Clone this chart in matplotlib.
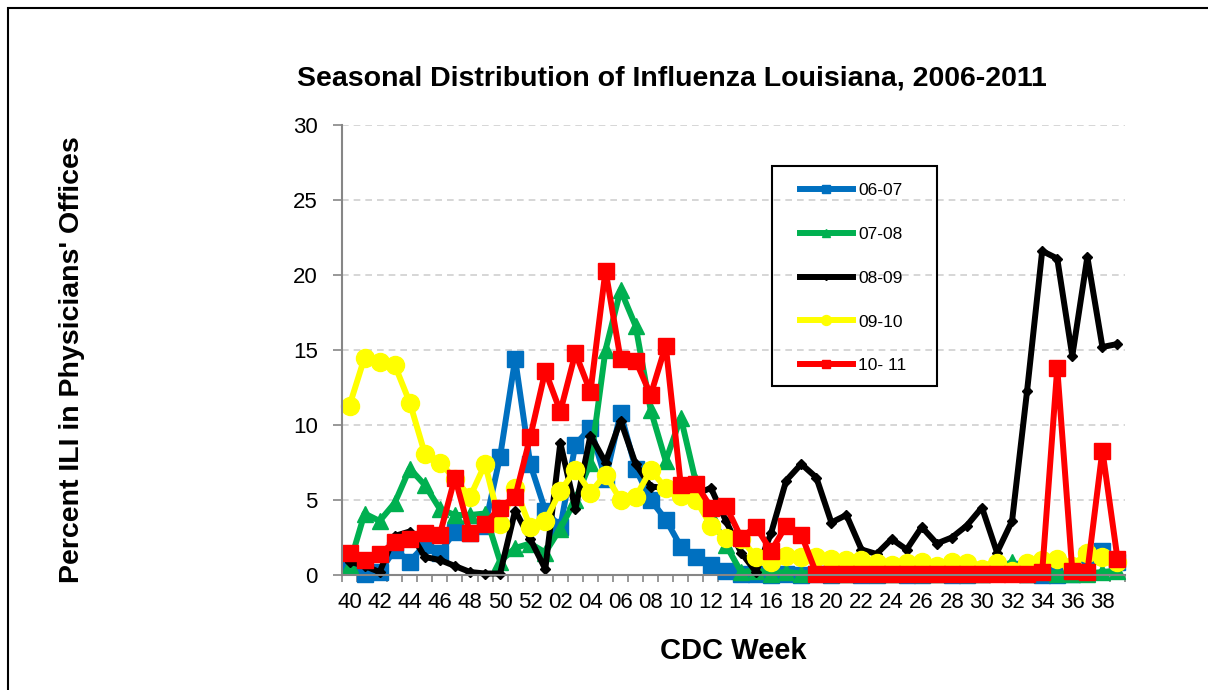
import matplotlib
matplotlib.use("Agg")
import matplotlib.pyplot as plt
from matplotlib.lines import Line2D
from matplotlib.patches import Rectangle
import numpy as np

weeks = [str(w) for w in range(40, 53)] + ["%02d" % w for w in range(1, 40)]

s0607 = [0.6, 0.1, 0.2, 1.7, 0.9, 2.0, 1.5, 2.9, 2.8, 3.3, 7.9, 14.4, 7.4, 4.3, 3.2, 8.7,
         9.8, 6.4, 10.8, 7.1, 5.0, 3.7, 1.9, 1.2, 0.7, 0.3, 0.1, 0.1, 0.0, 0.1, 0.0, 0.1,
         0.0, 0.1, 0.0, 0.0, 0.1, 0.0, 0.0, 0.1, 0.0, 0.0, 0.1, 0.2, 0.4, 0.1, 0.0, 0.0,
         0.1, 1.3, 1.6, 0.9]
s0708 = [0.7, 4.1, 3.6, 4.8, 7.1, 6.0, 4.4, 4.0, 4.0, 4.1, 0.9, 1.8, 2.1, 1.5, 3.1, 5.0,
         7.5, 15.0, 19.0, 16.6, 11.0, 7.6, 10.5, 6.2, 4.0, 2.0, 0.2, 0.3, 0.1, 0.2, 0.1, 0.2,
         0.1, 0.1, 0.2, 0.1, 0.1, 0.2, 0.1, 0.1, 0.2, 0.1, 0.1, 0.2, 0.9, 0.1, 0.2, 0.1,
         0.1, 0.1, 0.2, 0.3]
s0809 = [0.9, 0.6, 0.2, 2.6, 2.9, 1.2, 1.0, 0.6, 0.2, 0.1, 0.1, 4.3, 2.4, 0.4, 8.8, 4.4,
         9.3, 7.5, 10.3, 7.4, 5.9, 5.8, 5.6, 5.4, 5.8, 3.6, 1.5, 0.2, 2.8, 6.3, 7.4, 6.5,
         3.5, 4.0, 1.7, 1.4, 2.4, 1.7, 3.2, 2.1, 2.5, 3.3, 4.5, 1.5, 3.6, 12.3, 21.6, 21.1,
         14.6, 21.2, 15.2, 15.4]
s0910 = [11.3, 14.5, 14.2, 14.0, 11.5, 8.1, 7.5, 6.4, 5.2, 7.4, 3.4, 5.8, 3.2, 3.6, 5.6, 7.0,
         5.5, 6.7, 5.0, 5.2, 7.0, 5.8, 5.3, 5.0, 3.3, 2.5, 2.4, 1.2, 0.9, 1.3, 1.2, 1.2,
         1.1, 1.0, 1.0, 0.8, 0.7, 0.8, 0.9, 0.6, 0.9, 0.8, 0.4, 0.8, 0.3, 0.8, 1.0, 1.1,
         0.6, 1.5, 1.2, 0.9]
s1011 = [1.5, 1.0, 1.4, 2.2, 2.4, 2.8, 2.7, 6.5, 2.8, 3.4, 4.5, 5.2, 9.2, 13.6, 10.9, 14.8,
         12.2, 20.3, 14.4, 14.3, 12.0, 15.3, 6.0, 6.1, 4.5, 4.6, 2.5, 3.2, 1.6, 3.3, 2.7, 0.1,
         0.1, 0.1, 0.1, 0.1, 0.1, 0.1, 0.1, 0.1, 0.1, 0.1, 0.1, 0.1, 0.1, 0.1, 0.2, 13.8,
         0.3, 0.2, 8.3, 1.1]

series_labels = ["06-07", "07-08", "08-09", "09-10", "10- 11"]
series_data = [s0607, s0708, s0809, s0910, s1011]
colors = ["#0070C0", "#00B050", "#000000", "#FFFF00", "#FF0000"]
markers = ["s", "^", "D", "o", "s"]
msizes = [11, 11, 5.5, 13, 11]

yticks = [0, 5, 10, 15, 20, 25, 30]

plt.rcParams['font.family'] = ['Liberation Sans', 'DejaVu Sans']

W, H = 1208, 690
fig = plt.figure(figsize=(W / 100, H / 100), dpi=100)
fig.patch.set_facecolor("white")
ax = fig.add_axes([342 / W, 1 - 575 / H, (1125 - 342) / W, 450 / H])

x = np.arange(len(weeks))
for data, lab, c, m, ms in zip(series_data, series_labels, colors, markers, msizes):
    ax.plot(x, data, color=c, marker=m, markersize=ms, linewidth=4.3,
            markeredgecolor=c, label=lab, clip_on=False)

ax.set_xlim(-0.5, len(weeks) - 0.5)
ax.set_ylim(0, 30)
ax.set_yticks(yticks)
ax.set_yticklabels([str(v) for v in yticks], fontsize=16)
ax.set_xticks(x[::2])
ax.set_xticklabels(weeks[::2], fontsize=16)
ax.set_xticks(np.arange(-0.5, len(weeks), 1.0), minor=True)
ax.tick_params(axis='x', which='major', length=0, pad=12)
ax.tick_params(axis='x', which='minor', length=5, color='#868686', width=1.2)
ax.tick_params(axis='y', which='major', length=6.5, color='#868686', width=1.2, pad=11)

for sp in ['top', 'right']:
    ax.spines[sp].set_visible(False)
for sp in ['left', 'bottom']:
    ax.spines[sp].set_color('#868686')
    ax.spines[sp].set_linewidth(1.5)

ax.yaxis.grid(True, linestyle=(0, (4, 3)), color='#D0D0D0', linewidth=1.2)
ax.set_axisbelow(True)

ax.set_xlabel("CDC Week", fontsize=21, fontweight='bold')
ax.xaxis.set_label_coords(0.5, -(637 - 575) / 450)
fig.text(72 / W, 1 - 360 / H, "Percent ILI in Physicians' Offices", rotation=90,
         fontsize=20.5, fontweight='bold', ha='center', va='center')
fig.text(672 / W, 1 - 79 / H, "Seasonal Distribution of Influenza Louisiana, 2006-2011",
         fontsize=20.5, fontweight='bold', ha='center', va='center')

# legend: entries placed without frame, box drawn separately
handles = [Line2D([0], [0], color=c, marker=m, markersize=ms * 0.55, linewidth=4.3,
                  markeredgecolor=c)
           for c, m, ms in zip(colors, markers, msizes)]
leg = fig.legend(handles, series_labels, loc='upper left',
                 bbox_to_anchor=(800 / W, 1 - 183 / H), bbox_transform=fig.transFigure,
                 fontsize=12.5, frameon=False,
                 handlelength=3.05, handletextpad=0.3, labelspacing=1.65,
                 borderpad=0, borderaxespad=0)
fig.patches.append(Rectangle((772 / W, 1 - 386 / H), (937 - 772) / W, (386 - 166) / H,
                             transform=fig.transFigure, fill=False, edgecolor='black',
                             linewidth=1.5, zorder=5))

fig.patches.append(Rectangle((8 / W, -0.05), 1.2, 1 - 8 / H + 0.05,
                             transform=fig.transFigure, fill=False, edgecolor='black',
                             linewidth=1.5))

fig.savefig("out.png", dpi=100)
